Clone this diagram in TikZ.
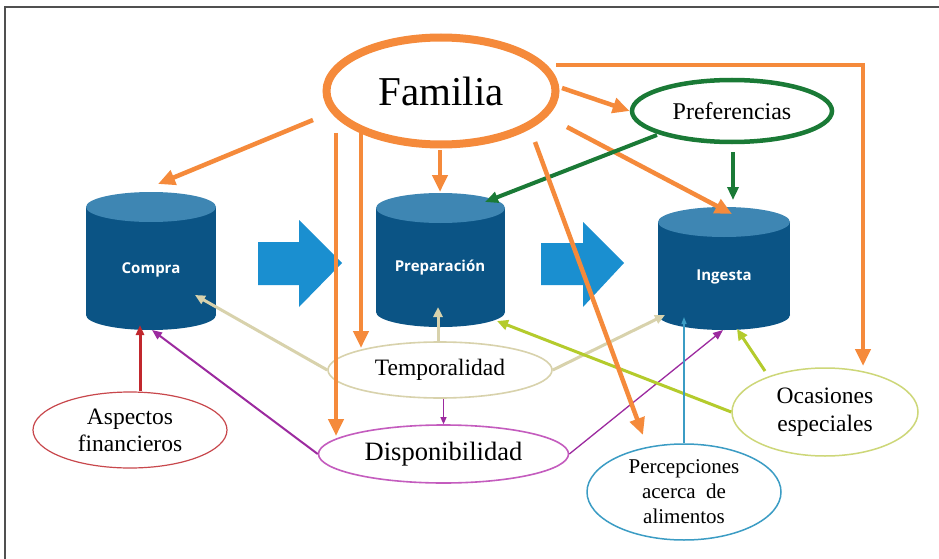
\documentclass[tikz,border=0pt]{standalone}
\usepackage{fontspec}
\setmainfont{Liberation Serif}
\newfontfamily\cylfont{Open Sans}
\usetikzlibrary{arrows.meta,shapes.geometric}
\definecolor{forange}{HTML}{F58A3B}
\definecolor{fgreen}{HTML}{1A7A36}
\definecolor{fred}{HTML}{C1272D}
\definecolor{fredl}{HTML}{C8474C}
\definecolor{fpurple}{HTML}{9C2A9F}
\definecolor{fmagenta}{HTML}{C45CBE}
\definecolor{fbeige}{HTML}{D8D2AC}
\definecolor{fyellow}{HTML}{B4CB2C}
\definecolor{fyellowl}{HTML}{CDD778}
\definecolor{fblue}{HTML}{3B9CC4}
\definecolor{cylbody}{HTML}{0B5485}
\definecolor{cyltop}{HTML}{3E86B3}
\definecolor{barrow}{HTML}{1A8FD0}
\definecolor{framec}{HTML}{505050}
\newcommand{\mycyl}[6]{%
  \fill[cylbody] (#2,{#4+15}) rectangle (#3,{#5-15});
  \fill[cylbody] (#1,{#5-15}) ellipse [x radius=#6pt, y radius=15pt];
  \fill[cyltop] (#1,{#4+15}) ellipse [x radius=#6pt, y radius=15pt];
}
\tikzset{
  ell/.style={ellipse, draw, inner sep=0pt, align=center},
  cyltxt/.style={inner sep=0pt, text=white, font=\cylfont\bfseries\fontsize{15}{18}\selectfont},
  oarr/.style={draw=forange, line width=4.5pt, -{Triangle[length=17pt,width=15pt]}},
  garr/.style={draw=fgreen, line width=4pt, -{Triangle[length=13pt,width=11pt]}},
  rarr/.style={draw=fred, line width=3pt, -{Triangle[length=10pt,width=8pt]}},
  parr/.style={draw=fpurple, line width=2pt, -{Triangle[length=10pt,width=8pt]}},
  pthin/.style={draw=fpurple, line width=1pt, -{Triangle[length=7pt,width=6pt]}},
  barr/.style={draw=fbeige, line width=3pt, -{Triangle[length=10pt,width=9pt]}},
  yarr/.style={draw=fyellow, line width=3pt, -{Triangle[length=11pt,width=10pt]}},
  larr/.style={draw=fblue, line width=1.3pt, -{Triangle[length=7pt,width=5pt]}},
  bigarrow/.style={fill=barrow}
}
\begin{document}
\begin{tikzpicture}[x=1pt,y=-1pt]
\useasboundingbox (0,0) rectangle (939,559);
\fill[white] (0,0) rectangle (939,559);
\draw[framec, line width=1.6pt] (5,562) -- (5,7) -- (942,7);

% block arrows
\fill[bigarrow] (258,242) -- (299,242) -- (299,220) -- (342,263) -- (299,307) -- (299,285) -- (258,285) -- cycle;
\fill[bigarrow] (541,243) -- (583,243) -- (583,222) -- (624,263) -- (583,307) -- (583,285) -- (541,285) -- cycle;

% cylinders
\mycyl{151}{86}{216}{192}{330}{65}
\mycyl{440.5}{376}{505}{193}{327}{64.5}
\mycyl{724}{658}{790}{207}{330}{66}
\node[cyltxt] (compra) at (151,270) {Compra};
\node[cyltxt] (prep) at (440,268) {Preparación};
\node[cyltxt] (ing) at (724,277) {Ingesta};

% ellipses
\node[ell, draw=forange, line width=8pt, minimum width=229pt, minimum height=107pt, font=\fontsize{41}{45}\selectfont] (fam) at (441,91) {Familia};
\node[ell, draw=fgreen, line width=4.5pt, minimum width=200pt, minimum height=62pt, font=\fontsize{24}{28}\selectfont] (pref) at (732,111) {Preferencias};
\node[ell, draw=fbeige, line width=1.6pt, minimum width=224pt, minimum height=56pt, font=\fontsize{23.5}{27}\selectfont] (temp) at (440,370) {Temporalidad};
\node[ell, draw=fmagenta, line width=1.6pt, minimum width=250pt, minimum height=58pt, font=\fontsize{26.5}{30}\selectfont] (disp) at (443.5,454) {Disponibilidad};
\node[ell, draw=fredl, line width=1.2pt, minimum width=194pt, minimum height=76pt, font=\fontsize{23.5}{27}\selectfont] (asp) at (130,430) {Aspectos\\financieros};
\node[ell, draw=fyellowl, line width=1.5pt, minimum width=186pt, minimum height=88pt, font=\fontsize{23.5}{28}\selectfont] (ocas) at (825,412) {Ocasiones\\especiales};
\node[ell, draw=fblue, line width=1.5pt, minimum width=194pt, minimum height=96pt, font=\fontsize{21}{25}\selectfont] (perc) at (684,492) {Percepciones\\acerca\ \ de\\alimentos};

% connector end points
\coordinate (o1s) at (313,120);  \coordinate (cmpT) at (158,184);
\coordinate (o2s) at (336,133);  \coordinate (dispT) at (336,436);
\coordinate (o3s) at (361,132);  \coordinate (tempT) at (361,348);
\coordinate (o4s) at (440,150);  \coordinate (prepT) at (440,192);
\coordinate (o5s) at (535,142);  \coordinate (percT) at (643,435);
\coordinate (o6s) at (567,127);  \coordinate (ingT) at (732,214);
\coordinate (o7s) at (562,88);
\coordinate (o8s) at (556,65);   \coordinate (o8c) at (863,65); \coordinate (ocasT) at (863,366);
\coordinate (g1s) at (657,135);  \coordinate (prepTR) at (485,202);
\coordinate (g2s) at (733,152);  \coordinate (ingT2) at (733,200);
\coordinate (cmpB) at (140,325);
\coordinate (cmpB2) at (152,330);
\coordinate (ingB) at (723,330);
\coordinate (cmpR) at (195,295);
\coordinate (prepB) at (438,307);
\coordinate (ingBL) at (665,315);
\coordinate (prepBR) at (497,321);
\coordinate (y2s) at (765,371);  \coordinate (ingB2) at (737,329);
\coordinate (ingB3) at (684,317);

% orange
\draw[oarr] (o1s) -- (cmpT);
\draw[oarr] (o2s) -- (dispT);
\draw[oarr] (o3s) -- (tempT);
\draw[oarr] (o4s) -- (prepT);
\draw[oarr] (o6s) -- (ingT);
\draw[oarr] (o7s) -- (pref.west);
\draw[oarr] (o8s) -- (o8c) -- (ocasT);
% green
\draw[garr] (g1s) -- (prepTR);
\draw[garr] (g2s) -- (ingT2);
% beige
\draw[barr] (temp.west) -- (cmpR);
\draw[barr] (temp.north -| prepB) -- (prepB);
\draw[barr] (temp.east) -- (ingBL);
% red, purple
\draw[rarr] (asp.north -| cmpB) -- (cmpB);
\draw[parr] (disp.west) -- (cmpB2);
\draw[parr, line width=1.3pt] (disp.east) -- (ingB);
\draw[pthin] (temp.south -| disp.north) -- (disp.north);
% yellow-green
\draw[yarr] (ocas.west) -- (prepBR);
\draw[yarr] (y2s) -- (ingB2);
% blue
\draw[larr] (perc.north) -- (ingB3);
% orange over everything
\draw[oarr] (o5s) -- (percT);
\end{tikzpicture}
\end{document}
